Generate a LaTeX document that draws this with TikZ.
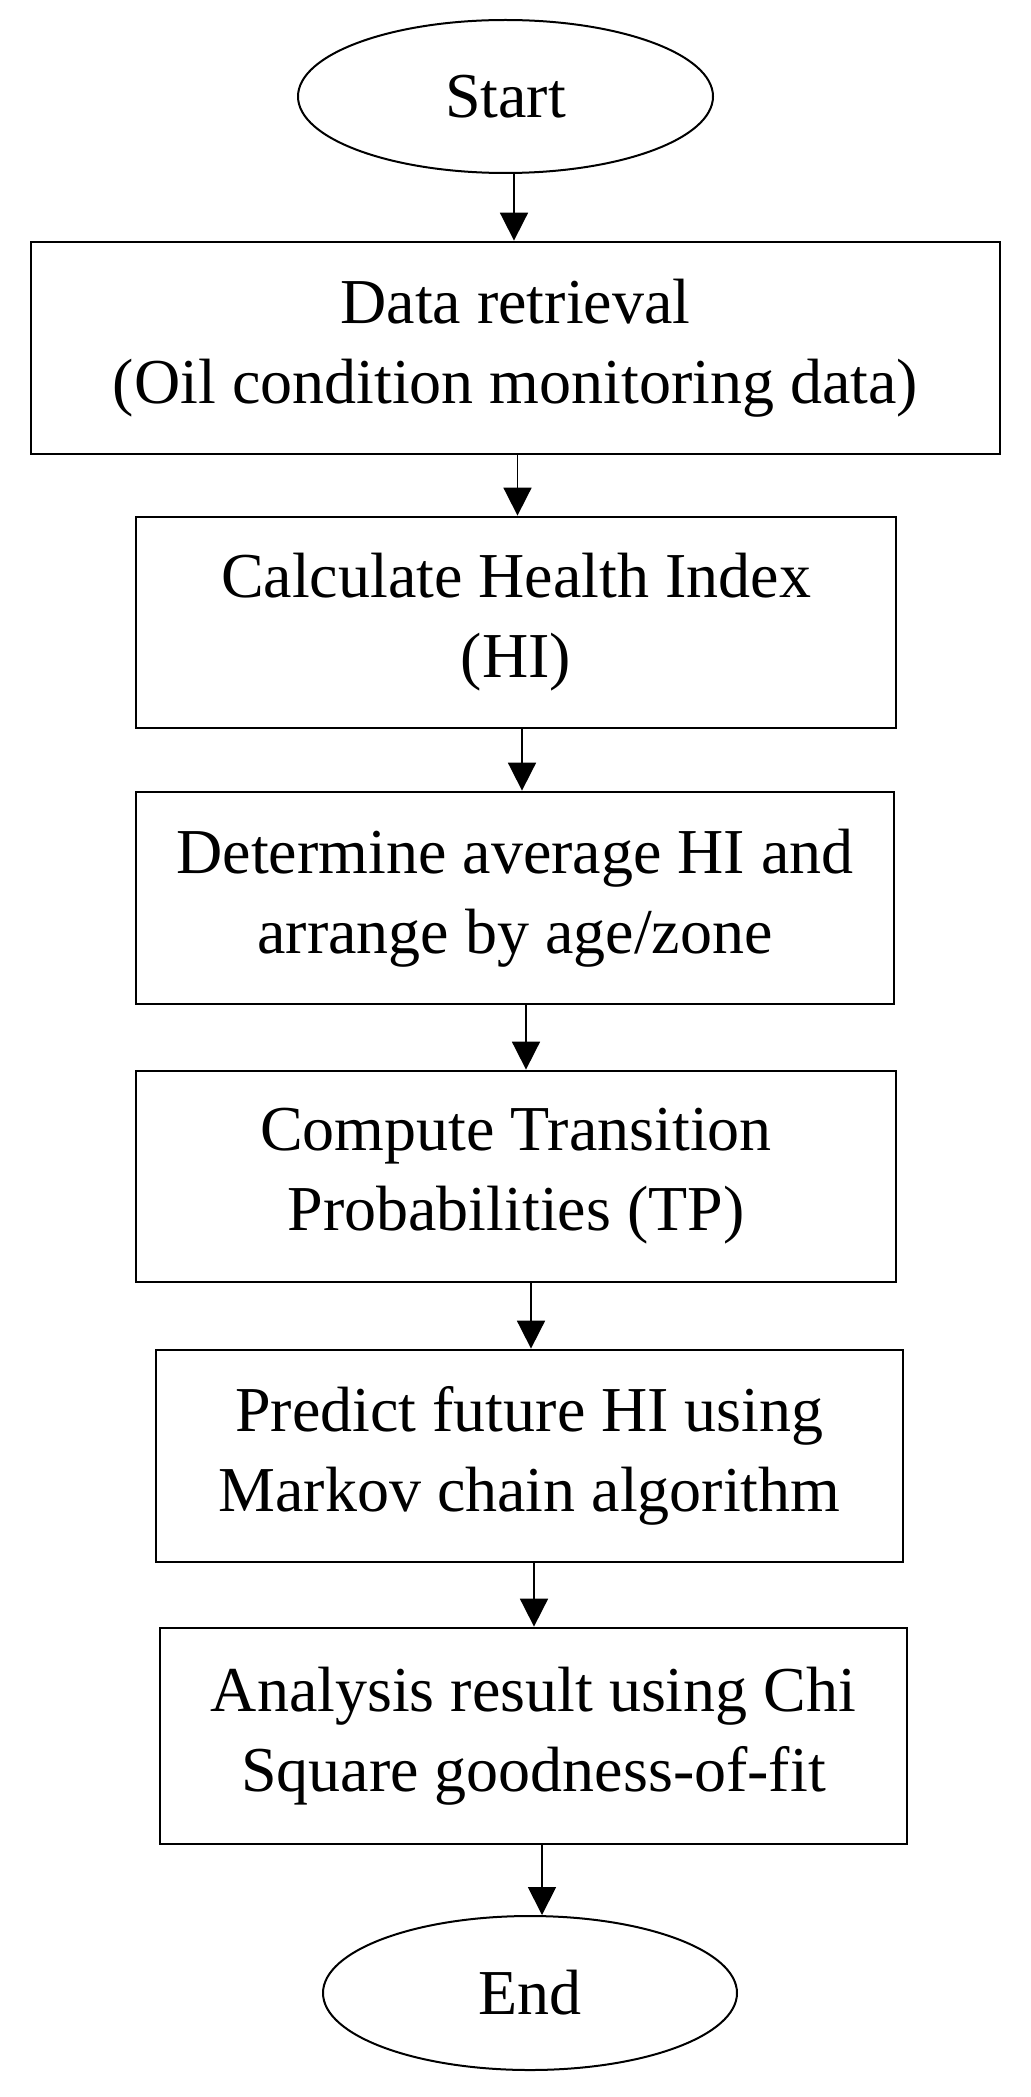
\documentclass[tikz,border=0pt]{standalone}
\usepackage{fontspec}
\setmainfont{Liberation Serif}
\usetikzlibrary{shapes.geometric,arrows.meta}
\begin{document}
\begin{tikzpicture}[x=0.5pt,y=-0.5pt,
  every node/.style={font=\fontsize{32}{40}\selectfont, align=center, inner sep=0pt},
  procbox/.style={draw, line width=1.4pt, rectangle},
  term/.style={draw, line width=1pt, ellipse},
  arr/.style={line width=0.9pt, -{Triangle[width=14pt,length=14pt]}}]
\useasboundingbox (0,0) rectangle (1030,2097);
\node[term, minimum width=207.5pt, minimum height=76.5pt] (s) at (505.5,96.5) {Start};
\node[procbox, minimum width=484.5pt, minimum height=106pt] (b1) at (515.5,348) {Data retrieval\\(Oil condition monitoring data)};
\node[procbox, minimum width=380pt, minimum height=105.5pt] (b2) at (516,622.5) {Calculate Health Index\\(HI)};
\node[procbox, minimum width=379pt, minimum height=106pt] (b3) at (515,898) {Determine average HI and\\arrange by age/zone};
\node[procbox, minimum width=380pt, minimum height=105.5pt] (b4) at (516,1176.5) {Compute Transition\\Probabilities (TP)};
\node[procbox, minimum width=373.5pt, minimum height=106pt] (b5) at (529.5,1456) {Predict future HI using\\Markov chain algorithm};
\node[procbox, minimum width=373.5pt, minimum height=108pt] (b6) at (533.5,1736) {Analysis result using Chi\\Square goodness-of-fit};
\node[term, minimum width=207pt, minimum height=77pt] (e) at (530,1993) {End};
\draw[arr] ([xshift=4.25pt]s.south) -- ([xshift=4.25pt]s.south |- b1.north);
\draw[arr] ([xshift=1pt]b1.south) -- ([xshift=1pt]b1.south |- b2.north);
\draw[arr] ([xshift=3pt]b2.south) -- ([xshift=3pt]b2.south |- b3.north);
\draw[arr] ([xshift=5.5pt]b3.south) -- ([xshift=5.5pt]b3.south |- b4.north);
\draw[arr] ([xshift=7.5pt]b4.south) -- ([xshift=7.5pt]b4.south |- b5.north);
\draw[arr] ([xshift=2.25pt]b5.south) -- ([xshift=2.25pt]b5.south |- b6.north);
\draw[arr] ([xshift=4.25pt]b6.south) -- ([xshift=4.25pt]b6.south |- e.north);
\end{tikzpicture}
\end{document}
